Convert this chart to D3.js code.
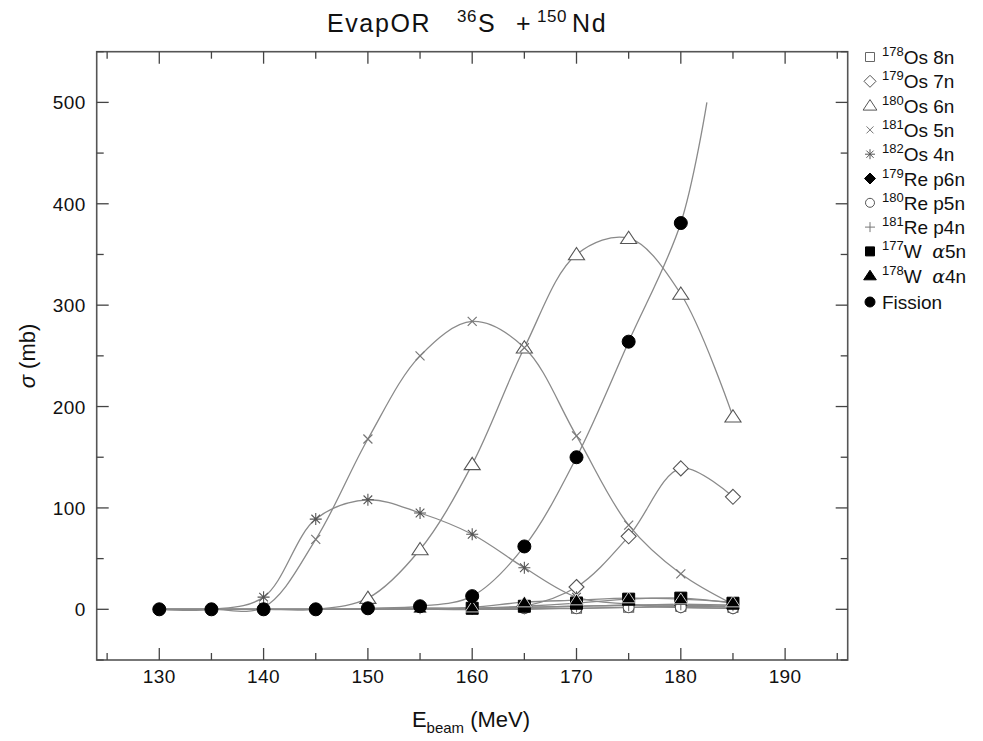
<!DOCTYPE html>
<html>
<head>
<meta charset="utf-8">
<script src="https://cdn.jsdelivr.net/npm/d3@7"></script>
<style>
  body { margin: 0; background: #fff; }
  text { font-family: "Liberation Sans", Arial, Helvetica, sans-serif; fill: #111; }
</style>
</head>
<body>
<script>
// beam energies (MeV)
var energy = [130, 135, 140, 145, 150, 155, 160, 165, 170, 175, 180, 185];

// cross sections (mb)
var os178_8n = [0, 0, 0, 0, 0, 0, 0, 0, 1, 2, 3, 2];
var os179_7n = [0, 0, 0, 0, 0, 0, 0, 3, 22, 72, 139, 111];
var os180_6n = [0, 0, 0, 0, 11, 59, 143, 258, 350, 366, 311, 190];
var os181_5n = [0, 0, 2, 69, 168, 250, 284, 258, 171, 83, 35, 5];
var os182_4n = [0, 0, 12, 89, 108, 95, 74, 41, 12, 5, 2, 1];
var re179_p6n = [0, 0, 0, 0, 0, 0, 1, 2, 3, 4, 4, 3];
var re180_p5n = [0, 0, 0, 0, 0, 0, 0, 1, 1, 2, 2, 1];
var re181_p4n = [0, 0, 0, 0, 0, 1, 1, 2, 3, 4, 5, 4];
var w177_a5n = [0, 0, 0, 0, 0, 0, 1, 3, 6, 10, 11, 6];
var w178_a4n = [0, 0, 0, 0, 0, 1, 2, 7, 9, 11, 10, 7];

var fissionEnergy = [130, 135, 140, 145, 150, 155, 160, 165, 170, 175, 180];
var fission = [0, 0, 0, 0, 1, 3, 13, 62, 150, 264, 381];
// the fitted fission curve runs on past the last point
var fissionTailE = 182.5, fissionTail = 500;

var xTicks = [130, 140, 150, 160, 170, 180, 190];
var yTicks = [0, 100, 200, 300, 400, 500];

var W = 983, H = 741;
var margin = { top: 51.7, right: 135.3, bottom: 81, left: 96.7 };
var w = W - margin.left - margin.right;
var h = H - margin.top - margin.bottom;

var x = d3.scaleLinear().domain([124, 196]).range([0, w]);
var y = d3.scaleLinear().domain([-50, 550]).range([h, 0]);

var svg = d3.select("body").append("svg")
    .attr("width", W).attr("height", H);

// title, pieces placed like the original
function titlePart(px, txt, sup) {
  svg.append("text")
      .attr("x", px).attr("y", sup ? 22 : 32)
      .style("font-size", sup ? "17px" : "25px")
      .style("letter-spacing", sup ? "0.5px" : "1.6px")
      .text(txt);
}
titlePart(327, "EvapOR", false);
titlePart(457, "36", true);
titlePart(478, "S", false);
titlePart(516, "+", false);
titlePart(537, "150", true);
titlePart(572, "Nd", false);

var g = svg.append("g")
    .attr("transform", "translate(" + margin.left + "," + margin.top + ")");

// frame
g.append("rect")
    .attr("width", w).attr("height", h)
    .attr("fill", "none").attr("stroke", "#555").attr("stroke-width", 1.6);

// ticks, pointing inward, on all four sides
var xMinor = d3.range(125, 196, 5), yMinor = d3.range(-50, 551, 50);
function tickLen(v, step) { return v % step === 0 ? 12 : 7; }
xMinor.forEach(function(v) {
  var L = tickLen(v, 10);
  g.append("line").attr("x1", x(v)).attr("x2", x(v)).attr("y1", h).attr("y2", h - L)
    .attr("stroke", "#444").attr("stroke-width", 1.3);
  g.append("line").attr("x1", x(v)).attr("x2", x(v)).attr("y1", 0).attr("y2", L)
    .attr("stroke", "#444").attr("stroke-width", 1.3);
});
yMinor.forEach(function(v) {
  var L = tickLen(v, 100);
  g.append("line").attr("y1", y(v)).attr("y2", y(v)).attr("x1", 0).attr("x2", L)
    .attr("stroke", "#444").attr("stroke-width", 1.3);
  g.append("line").attr("y1", y(v)).attr("y2", y(v)).attr("x1", w).attr("x2", w - L)
    .attr("stroke", "#444").attr("stroke-width", 1.3);
});

g.selectAll(".xt").data(xTicks).enter().append("text")
    .attr("class", "xt")
    .attr("x", function(d) { return x(d); })
    .attr("y", h + 23)
    .attr("text-anchor", "middle")
    .style("font-size", "19px")
    .style("letter-spacing", "0.4px")
    .text(function(d) { return d; });

g.selectAll(".yt").data(yTicks).enter().append("text")
    .attr("class", "yt")
    .attr("x", -11)
    .attr("y", function(d) { return y(d) + 7; })
    .attr("text-anchor", "end")
    .style("font-size", "19px")
    .style("letter-spacing", "0.4px")
    .text(function(d) { return d; });

// axis labels
var xl = svg.append("text")
    .attr("x", 471).attr("y", 727)
    .attr("text-anchor", "middle")
    .style("font-size", "22px");
xl.append("tspan").text("E");
xl.append("tspan").attr("dy", 6).style("font-size", "15px").text("beam");
xl.append("tspan").attr("dy", -6).text(" (MeV)");

var yl = svg.append("text")
    .attr("transform", "translate(35,356) rotate(-90)")
    .attr("text-anchor", "middle")
    .style("font-size", "22px");
yl.append("tspan").style("font-style", "italic").text("\u03c3");
yl.append("tspan").text(" (mb)");

// marker shapes
function sq(s) { return "M" + (-s) + "," + (-s) + "h" + 2 * s + "v" + 2 * s + "h" + (-2 * s) + "Z"; }
function dia(s) { return "M0," + (-s) + "L" + s + ",0L0," + s + "L" + (-s) + ",0Z"; }
function tri(s) { return "M0," + (-s) + "L" + (s * 1.15) + "," + (s * 0.75) + "L" + (-s * 1.15) + "," + (s * 0.75) + "Z"; }
function cross(s) { return "M" + (-s) + "," + (-s) + "L" + s + "," + s + "M" + (-s) + "," + s + "L" + s + "," + (-s); }
function plus(s) { return "M" + (-s) + ",0H" + s + "M0," + (-s) + "V" + s; }
function star(s) { var d = s * 0.72; return plus(s) + "M" + (-d) + "," + (-d) + "L" + d + "," + d + "M" + (-d) + "," + d + "L" + d + "," + (-d); }
function circ(s) { return "M" + s + ",0A" + s + "," + s + " 0 1,1 " + (-s) + ",0A" + s + "," + s + " 0 1,1 " + s + ",0Z"; }

var series = [
  { iso: "178", el: "Os 8n", vals: os178_8n, shape: sq, size: 5, ls: 4.5, fill: "#fff", stroke: "#666", sw: 1.1 },
  { iso: "179", el: "Os 7n", vals: os179_7n, shape: dia, size: 7.5, ls: 6, fill: "#fff", stroke: "#555", sw: 1.1 },
  { iso: "180", el: "Os 6n", vals: os180_6n, shape: tri, size: 7, ls: 6, fill: "#fff", stroke: "#555", sw: 1.1 },
  { iso: "181", el: "Os 5n", vals: os181_5n, shape: cross, size: 4.5, ls: 3.5, fill: "none", stroke: "#777", sw: 1.2 },
  { iso: "182", el: "Os 4n", vals: os182_4n, shape: star, size: 6, ls: 5, fill: "none", stroke: "#555", sw: 1.1 },
  { iso: "179", el: "Re p6n", vals: re179_p6n, shape: dia, size: 6, ls: 5.5, fill: "#000", stroke: "#000", sw: 1 },
  { iso: "180", el: "Re p5n", vals: re180_p5n, shape: circ, size: 5.5, ls: 4.5, fill: "#fff", stroke: "#555", sw: 1.1 },
  { iso: "181", el: "Re p4n", vals: re181_p4n, shape: plus, size: 6, ls: 5, fill: "none", stroke: "#777", sw: 1.1 },
  { iso: "177", el: "W", alpha: "5n", vals: w177_a5n, shape: sq, size: 6, ls: 4.5, fill: "#000", stroke: "#000", sw: 1 },
  { iso: "178", el: "W", alpha: "4n", vals: w178_a4n, shape: tri, size: 6.2, ls: 5.5, fill: "#000", stroke: "#fff", sw: 0.8 },
  { iso: null, el: "Fission", vals: fission, energies: fissionEnergy, shape: circ, size: 6.5, ls: 5, fill: "#000", stroke: "#000", sw: 1 }
];

var line = d3.line()
    .x(function(d) { return x(d[0]); })
    .y(function(d) { return y(d[1]); })
    .curve(d3.curveCatmullRom.alpha(0.5));

// fitted curves
series.forEach(function(s) {
  var es = s.energies || energy;
  var pts = es.map(function(e, i) { return [e, s.vals[i]]; });
  if (s.el === "Fission") pts.push([fissionTailE, fissionTail]);
  g.append("path")
      .attr("d", line(pts))
      .attr("fill", "none")
      .attr("stroke", "#8a8a8a")
      .attr("stroke-width", 1.3);
});

// data points (zero points of the residue channels sit hidden under the fission dots)
series.forEach(function(s) {
  var es = s.energies || energy;
  var pts = es.map(function(e, i) { return [e, s.vals[i]]; })
      .filter(function(d) { return s.el === "Fission" || d[1] > 0; });
  g.selectAll(null).data(pts).enter().append("path")
      .attr("transform", function(d) { return "translate(" + x(d[0]) + "," + y(d[1]) + ")"; })
      .attr("d", s.shape(s.size))
      .attr("fill", s.fill)
      .attr("stroke", s.stroke)
      .attr("stroke-width", s.sw);
});

// legend
var leg = svg.append("g").attr("transform", "translate(870,57)");
series.forEach(function(s, i) {
  var row = leg.append("g").attr("transform", "translate(0," + (i * 24.3 + (i === 10 ? 2 : 0)) + ")");
  row.append("path")
      .attr("d", s.shape(s.ls))
      .attr("fill", s.fill)
      .attr("stroke", s.fill === "#000" ? "#000" : s.stroke)
      .attr("stroke-width", 1);
  var t = row.append("text").attr("x", 12).attr("y", 7).style("font-size", "19px");
  if (s.iso) {
    t.append("tspan").attr("dy", -8).style("font-size", "13px").text(s.iso);
    t.append("tspan").attr("dy", 8).text(s.el);
  } else {
    t.append("tspan").text(s.el);
  }
  if (s.alpha) {
    t.append("tspan").text("\u00a0 ");
    t.append("tspan").style("font-style", "italic").style("font-family", "'DejaVu Serif', serif").text("\u03b1");
    t.append("tspan").text(s.alpha);
  }
});
</script>
</body>
</html>
